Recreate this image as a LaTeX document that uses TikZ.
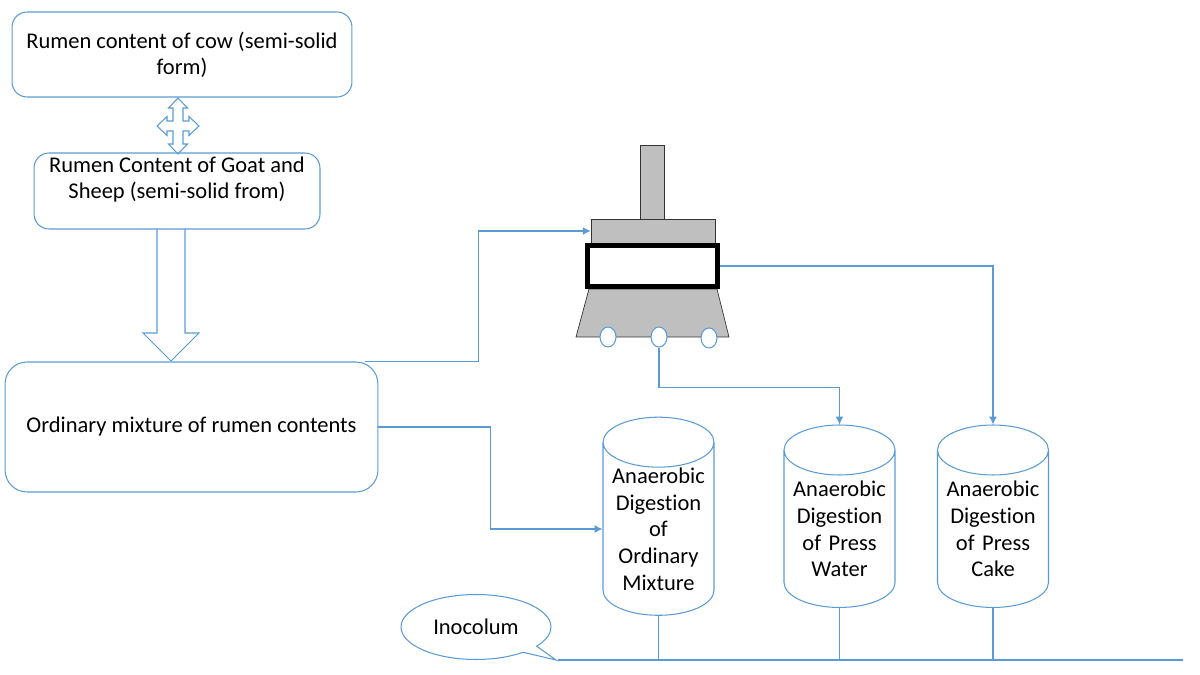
\documentclass[tikz,border=0pt]{standalone}
\usepackage{fontspec}
\setmainfont{Carlito}[Ligatures=NoCommon]
\usepackage{tikz}
\usetikzlibrary{arrows.meta,shapes.geometric,shapes.callouts}
\definecolor{lineblue}{RGB}{91,155,213}
\definecolor{pressgray}{RGB}{191,191,191}

\begin{document}
\begin{tikzpicture}[x=0.02cm, y=-0.02cm,
  every node/.style={font=\fontsize{12.8}{14.7}\selectfont, inner sep=0pt},
  box/.style={draw=lineblue, line width=0.6pt, rounded corners=0.3cm, align=center},
  tank/.style={draw=lineblue, line width=0.6pt, cylinder, shape border rotate=90, aspect=0.5, minimum width=2.22cm, minimum height=3.65cm, align=center, text width=2cm, font=\fontsize{12.8}{15.2}\selectfont},
  flow/.style={draw=lineblue, line width=0.6pt, -{Latex[length=4.5pt,width=4.5pt]}},
  wire/.style={draw=lineblue, line width=0.6pt},
  metal/.style={fill=pressgray, draw=black!80, line width=0.4pt}]
\useasboundingbox (0,0) rectangle (1200,675);
%source boxes
\node[box, minimum width=6.8cm, minimum height=1.7cm] (cow) at (182,54.5) {Rumen content of cow (semi-solid\\form)};
\node[box, minimum width=5.72cm, minimum height=1.52cm] (goat) at (177,191) {Rumen Content of Goat and\\Sheep (semi-solid from)\\~};
\node[box, rounded corners=0.44cm, minimum width=7.46cm, minimum height=2.6cm] (ord) at (191.5,427) {Ordinary mixture of rumen contents};
%block arrows
\draw[wire] (178,98) -- (187.5,108) -- (183,108) -- (183,121) -- (189,121) -- (189,116.5) -- (199,126)
  -- (189,135.5) -- (189,131) -- (183,131) -- (183,144) -- (187.5,144) -- (178,154) -- (168.5,144)
  -- (173,144) -- (173,131) -- (167,131) -- (167,135.5) -- (157,126) -- (167,116.5) -- (167,121)
  -- (173,121) -- (173,108) -- (168.5,108) -- cycle;
\draw[wire] (157,229) -- (157,333) -- (143,333) -- (171,361) -- (199,333) -- (185,333) -- (185,229);
%press
\node[metal, minimum width=0.48cm, minimum height=1.48cm] (rod) at (652,182) {};
\node[metal, minimum width=2.48cm, minimum height=0.48cm] (platen) at (653,231) {};
\draw[metal] (589,289) -- (717,289) -- (729,337) -- (576,337) -- cycle;
\node[draw=black, line width=2.8pt, fill=white, minimum width=2.6cm, minimum height=0.82cm] (press) at (652.5,266) {};
\foreach \x/\y [count=\i] in {608/337,659/337,709/338}
  \node[ellipse, draw=lineblue, fill=white, line width=0.6pt, minimum width=0.32cm, minimum height=0.4cm] (wheel\i) at (\x,\y) {};
%digesters
\node[tank] (tank1) at (658.5,529) {Anaerobic\\Digestion\\of\\Ordinary\\Mixture};
\node[tank] (tank2) at (839.5,529) {Anaerobic\\Digestion\\of Press\\Water};
\node[tank] (tank3) at (993,529) {Anaerobic\\Digestion\\of Press\\Cake};
%flows
\draw[flow] ([xshift=-0.26cm]ord.north east) -- ++(113,0) |- (platen.west);
\draw[flow] (ord.east) -- ++(112,0) |- (tank1.west);
\draw[flow] (press.east) -| (tank3.north);
\draw[flow] (wheel2.south) -- ++(0,40) -| (tank2.north);
%inoculum line
\node[ellipse callout, draw=lineblue, line width=0.6pt, minimum width=3cm, minimum height=1.3cm, callout absolute pointer={(556,660)}] (inoc) at (476,627) {Inocolum};
\coordinate (busL) at (558,660);
\coordinate (busR) at (1183,660);
\draw[wire] (busL) -- (busR);
\foreach \i in {1,2,3}
  \draw[wire] (tank\i.south) -- (tank\i.south |- busL);
\end{tikzpicture}
\end{document}
